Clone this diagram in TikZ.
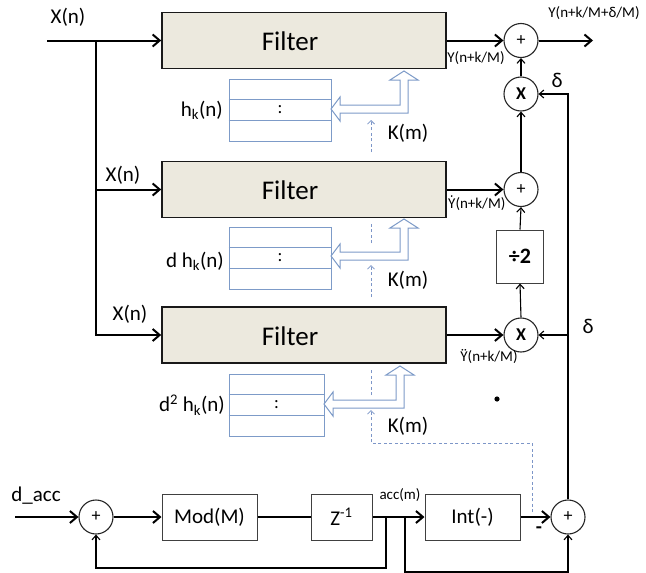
\documentclass[tikz,border=0pt]{standalone}
\usepackage{fontspec}
\setmainfont{Carlito}
\usetikzlibrary{arrows.meta,calc}

\definecolor{filterfill}{RGB}{236,233,222}
\definecolor{tablecol}{RGB}{125,155,200}
\definecolor{dashcol}{RGB}{125,150,200}

\newcommand{\fsz}[1]{\fontsize{#1}{#1}\selectfont}

\tikzset{
  filterbox/.style={draw=black!90, line width=1.6pt, fill=filterfill,
    minimum width=284pt, minimum height=56pt, inner sep=0pt},
  filtertext/.style={font=\fsz{27}, inner sep=0pt},
  memtable/.style={draw=tablecol, line width=1pt, fill=white,
    minimum height=62pt, inner sep=0pt},
  sumnode/.style={circle, draw=black!85, line width=1.1pt, fill=white,
    minimum size=34pt, inner sep=0pt},
  blockbox/.style={draw=black!75, line width=1pt, fill=white,
    minimum height=46pt, inner sep=0pt, font=\fsz{21}},
  lbl/.style={inner sep=0pt, font=\fsz{21}},
  lblsmall/.style={inner sep=0pt, font=\fsz{15}},
  bigline/.style={line width=2pt},
  bigarrow/.style={line width=2pt, -{Straight Barb[length=7pt,width=12pt]}},
  thinarrow/.style={line width=1.1pt, -{Straight Barb[length=4.5pt,width=8pt]}},
  dashline/.style={dashcol, line width=0.8pt, dash pattern=on 3pt off 2.5pt},
  dasharrow/.style={dashline, -{Straight Barb[length=3.5pt,width=7pt]}},
  pics/hollowarrow/.style 2 args={code={
    \draw[tablecol, line width=1pt, fill=white, line join=miter]
      (-#1,0) -- (-#1+9,-12) -- (-#1+9,-4) -- (-4,-4) -- (-4,-#2+9)
      -- (-14,-#2+9) -- (0,-#2) -- (14,-#2+9) -- (4,-#2+9) -- (4,4)
      -- (-#1+9,4) -- (-#1+9,12) -- cycle;
  }},
}

\begin{document}
\begin{tikzpicture}[x=1pt,y=-1pt]
\useasboundingbox[fill=white] (0,0) rectangle (646,573);

% ---- filter bank ----
\node[filterbox] (f1) at (304,40.5) {};
\node[filterbox] (f2) at (304,189.5) {};
\node[filterbox] (f3) at (304,335) {};
\node[filtertext] (f1t) at (290,41) {Filter};
\node[filtertext] (f2t) at (290,190) {Filter};
\node[filtertext] (f3t) at (290,336) {Filter};

% ---- coefficient tables ----
\foreach \n/\cx/\cy/\w in {1/280/110/102, 2/280/258/102, 3/276.5/405/95}{
  \node[memtable, minimum width=\w pt] (t\n) at (\cx,\cy) {};
  \draw[tablecol, line width=1pt]
    ($(t\n.north west)!1/3!(t\n.south west)$) -- ($(t\n.north east)!1/3!(t\n.south east)$)
    ($(t\n.north west)!2/3!(t\n.south west)$) -- ($(t\n.north east)!2/3!(t\n.south east)$);
  \node[lbl, font=\fsz{18}] (c\n) at (t\n.center) {:};
}
\node[lbl, anchor=east] (h1) at (223,110) {h\textsubscript{k}(n)};
\node[lbl, anchor=east] (h2) at (224,261) {d h\textsubscript{k}(n)};
\node[lbl, anchor=east] (h3) at (225,405) {d\textsuperscript{2} h\textsubscript{k}(n)};

% ---- coefficient dashed links ----
\coordinate (d1a) at (371,152);
\coordinate (d1b) at (371,120);
\draw[dasharrow] (d1a) -- (d1b);
\coordinate (d2a) at (371,297);
\coordinate (d2b) at (371,265);
\draw[dashline] (371,243) -- (371,223);
\draw[dasharrow] (d2a) -- (d2b);
\draw[dashline] (371,395) -- (371,368);

% ---- hollow coefficient arrows ----
\pic at (404,109) {hollowarrow={73}{38}};
\pic at (404,256) {hollowarrow={73}{37}};
\pic at (400,404) {hollowarrow={76}{38}};
\node[lbl] (k1) at (408,133) {K(m)};
\node[lbl] (k2) at (408,280) {K(m)};
\node[lbl] (k3) at (408,426) {K(m)};

% ---- input distribution ----
\coordinate (xin) at (47,40.5);
\coordinate (br) at (96,40.5);
\draw[bigarrow] (xin) -- (f1.west);
\draw[bigarrow] (br) |- (f3.west);
\draw[bigarrow] (br |- f2.west) -- (f2.west);
\node[lbl] (xl1) at (68,17) {X(n)};
\node[lbl] (xl2) at (123,175) {X(n)};
\node[lbl] (xl3) at (130,314) {X(n)};

% ---- output combination ----
\node[sumnode, font=\fsz{18}] (s1) at (521,40.5) {+};
\node[sumnode, font=\bfseries\fsz{18}] (x1) at (521,94) {X};
\node[sumnode, font=\fsz{18}] (s2) at (521,189.5) {+};
\node[draw=black!75, line width=1pt, minimum width=47pt, minimum height=53pt,
      inner sep=0pt, font=\bfseries\fsz{22}] (dv) at (520,256.5) {÷2};
\node[sumnode, font=\bfseries\fsz{18}] (x3) at (521,335) {X};

\coordinate (out) at (593,40.5);
\draw[bigarrow] (f1.east) -- (s1.west);
\draw[bigarrow] (s1.east) -- (out);
\draw[bigarrow] (f2.east) -- (s2.west);
\draw[bigarrow] (f3.east) -- (x3.west);
\draw[thinarrow] (x1.north) -- (s1.south);
\draw[thinarrow] (s2.north) -- (x1.south);
\draw[thinarrow] (dv.north) -- (s2.south);
\draw[thinarrow] (x3.north) -- (dv.south);

\node[lblsmall] (yo) at (594,13) {Y(n+k/M+δ/M)};
\node[lblsmall] (y1) at (476,58) {Y(n+k/M)};
\node[lblsmall, anchor=west] (y2) at (448,204) {Y(n+k/M)};
% first-derivative dot over the Y
\fill ($(y2.north west)+(3.7,-1.2)$) circle (0.9pt);
\node[lblsmall] (y3) at (489,357) {\"{Y}(n+k/M)};
\node[lbl] (dl1) at (557,80) {δ};
\node[lbl] (dl2) at (588,326) {δ};
\fill (497,399) circle (2.6pt);

% ---- accumulator chain ----
\coordinate (din) at (15,517);
\node[sumnode, font=\fsz{18}] (s0) at (96,517) {+};
\node[blockbox, minimum width=95pt] (mod) at (209.5,517) {Mod(M)};
\node[blockbox, minimum width=61pt] (zb) at (341.5,517) {Z\textsuperscript{-1}};
\node[blockbox, minimum width=95pt] (int) at (472.5,517) {Int(-)};
\node[sumnode, font=\fsz{18}] (sb) at (568,517) {+};

\draw[bigarrow] (din) -- (s0.west);
\draw[bigarrow] (s0.east) -- (mod.west);
\draw[bigline] (mod.east) -- (zb.west);
\draw[bigarrow] (zb.east) -- (int.west);
\draw[bigarrow] (int.east) -- (sb.west);

\coordinate (tap1) at (386,517);
\coordinate (tap2) at (405,517);
\draw[thinarrow] (tap1) -- (386,568) -| (s0.south);
\draw[thinarrow] (tap2) -- (405,572) -| (sb.south);

\draw[thinarrow] (sb.north) |- (x1.east);
\draw[thinarrow] (sb.north |- x3.east) -- (x3.east);

\coordinate (dk) at (532,512);
\draw[dasharrow] (dk) -- (532,443) -- (371,443) -- (371,410);

\node[lbl] (dacc) at (36,496) {d\_acc};
\node[lblsmall] (acc) at (400,495) {acc(m)};
\node[lbl, font=\bfseries\fsz{20}] (minus) at (539,530) {-};
\end{tikzpicture}
\end{document}
